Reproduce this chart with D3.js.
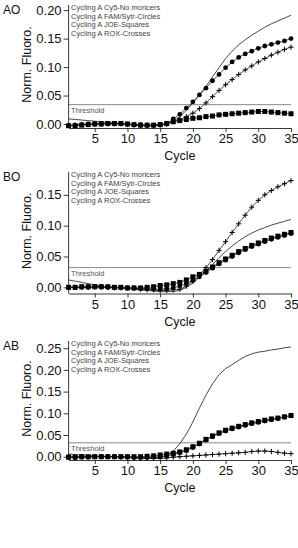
<!DOCTYPE html>
<html><head><meta charset="utf-8">
<script src="https://cdn.jsdelivr.net/npm/d3@7/dist/d3.min.js"></script>
<style>
body{margin:0;background:#fff;}
svg{display:block;font-family:"Liberation Sans",Arial,sans-serif;}
</style></head><body>
<svg id="chart" width="298" height="548"></svg>
<script>
const cycles = [1,2,3,4,5,6,7,8,9,10,11,12,13,14,15,16,17,18,19,20,21,22,23,24,25,26,27,28,29,30,31,32,33,34,35];
const xTicks = [5,10,15,20,25,30,35];
const legendLabels = ["Cycling A Cy5-No moricers","Cycling A FAM/Sytr-Circles","Cycling A JOE-Squares","Cycling A ROX-Crosses"];
const panelNames = ["AO","BO","AB"];
const yTicksAO = [0,0.05,0.10,0.15,0.20];
const yTicksBO = [0,0.05,0.10,0.15];
const yTicksAB = [0,0.05,0.10,0.15,0.20,0.25];
const thresholds = [0.034,0.032,0.032];

const cy5_AO = [0.009,0.008,0.007,0.006,0.005,0.004,0.003,0.002,0.001,0.000,-0.001,-0.002,-0.003,-0.003,-0.002,0.000,0.005,0.013,0.024,0.037,0.051,0.066,0.083,0.099,0.115,0.128,0.139,0.148,0.156,0.163,0.170,0.176,0.181,0.186,0.191];
const fam_AO = [-0.003,-0.002,-0.001,0.000,0.000,0.001,0.001,0.001,0.001,0.000,-0.001,-0.001,-0.002,-0.002,-0.001,0.000,0.009,0.017,0.028,0.039,0.051,0.063,0.076,0.087,0.099,0.109,0.117,0.123,0.128,0.133,0.137,0.140,0.143,0.146,0.150];
const joe_AO = [-0.003,-0.003,-0.002,-0.001,0.000,0.000,0.001,0.001,0.001,0.000,-0.001,-0.002,-0.002,-0.002,-0.001,0.001,0.004,0.006,0.008,0.010,0.011,0.013,0.014,0.016,0.017,0.018,0.019,0.020,0.021,0.022,0.022,0.021,0.020,0.019,0.018];
const rox_AO = [-0.002,-0.002,-0.001,-0.001,0.000,0.000,0.000,0.000,0.000,-0.001,-0.002,-0.003,-0.003,-0.003,-0.002,0.000,0.004,0.008,0.013,0.019,0.027,0.037,0.048,0.059,0.069,0.078,0.087,0.095,0.102,0.109,0.115,0.121,0.126,0.131,0.135];

const cy5_BO = [0.012,0.010,0.008,0.006,0.004,0.002,0.001,0.000,-0.001,-0.002,-0.003,-0.004,-0.005,-0.006,-0.007,-0.007,-0.007,-0.005,0.000,0.007,0.016,0.026,0.037,0.048,0.058,0.067,0.075,0.082,0.088,0.093,0.097,0.101,0.104,0.107,0.110];
const fam_BO = [0.000,0.000,0.000,0.000,0.001,0.001,0.000,0.000,0.000,-0.001,-0.001,-0.002,-0.002,-0.003,-0.003,-0.002,-0.001,0.002,0.006,0.011,0.017,0.024,0.031,0.038,0.044,0.050,0.056,0.061,0.066,0.070,0.074,0.078,0.081,0.084,0.087];
const joe_BO = [0.000,0.000,0.001,0.001,0.001,0.001,0.001,0.000,0.000,-0.001,-0.001,-0.001,0.000,0.001,0.003,0.004,0.006,0.008,0.012,0.017,0.021,0.026,0.033,0.040,0.046,0.052,0.058,0.063,0.068,0.072,0.076,0.080,0.083,0.086,0.089];
const rox_BO = [0.000,0.000,0.000,0.000,0.000,0.000,0.000,-0.001,-0.001,-0.001,-0.002,-0.003,-0.004,-0.004,-0.005,-0.005,-0.004,-0.003,0.002,0.010,0.020,0.032,0.045,0.060,0.074,0.089,0.103,0.117,0.130,0.141,0.150,0.157,0.163,0.168,0.173];

const cy5_AB = [0.006,0.005,0.004,0.003,0.002,0.001,0.001,0.000,0.000,-0.001,-0.002,-0.003,-0.003,-0.003,-0.002,0.003,0.013,0.030,0.052,0.080,0.112,0.142,0.168,0.189,0.203,0.212,0.222,0.231,0.237,0.241,0.243,0.246,0.248,0.251,0.253];
const fam_AB = [-0.002,-0.002,-0.001,-0.001,0.000,0.000,0.000,0.000,0.000,-0.001,-0.002,-0.002,-0.002,-0.001,0.000,0.002,0.005,0.009,0.014,0.021,0.029,0.038,0.046,0.053,0.059,0.064,0.068,0.072,0.076,0.079,0.082,0.085,0.088,0.091,0.094];
const joe_AB = [-0.001,-0.001,0.000,0.000,0.000,0.000,0.000,0.000,0.000,0.000,0.000,0.000,0.001,0.002,0.004,0.006,0.008,0.011,0.016,0.023,0.031,0.040,0.048,0.055,0.061,0.066,0.070,0.074,0.078,0.081,0.084,0.087,0.089,0.092,0.095];
const rox_AB = [0.000,0.000,0.000,0.000,0.000,0.000,0.000,0.000,-0.001,-0.001,-0.003,-0.004,-0.004,-0.004,-0.004,-0.003,-0.001,0.000,0.001,0.002,0.003,0.004,0.005,0.006,0.007,0.008,0.009,0.010,0.012,0.013,0.013,0.012,0.010,0.008,0.007];

const panels = [
  {name:panelNames[0], cy5:cy5_AO, fam:fam_AO, joe:joe_AO, rox:rox_AO, ticks:yTicksAO, thr:thresholds[0], dom:[-0.007,0.209], top:5, bottom:128},
  {name:panelNames[1], cy5:cy5_BO, fam:fam_BO, joe:joe_BO, rox:rox_BO, ticks:yTicksBO, thr:thresholds[1], dom:[-0.010,0.187], top:172, bottom:293.5},
  {name:panelNames[2], cy5:cy5_AB, fam:fam_AB, joe:joe_AB, rox:rox_AB, ticks:yTicksAB, thr:thresholds[2], dom:[-0.0076,0.2666], top:341, bottom:460}
];

const svg = d3.select("#chart");
const x = d3.scaleLinear().domain([1,35]).range([68.6,291]);
const ink = "#222";

panels.forEach(p => {
  const y = d3.scaleLinear().domain(p.dom).range([p.bottom,p.top]);
  const g = svg.append("g");

  g.append("line").attr("x1",x(1)).attr("x2",x(35)).attr("y1",y(p.thr)).attr("y2",y(p.thr))
    .attr("stroke","#8a8a8a").attr("stroke-width",1);
  g.append("text").attr("x",x(1)+2.5).attr("y",y(p.thr)+8.5).text("Threshold")
    .attr("font-size",7.5).attr("fill","#555");

  const ya = g.append("g").attr("transform",`translate(${x(1)},0)`)
    .call(d3.axisLeft(y).tickValues(p.ticks).tickFormat(d3.format(".2f")).tickSize(5).tickSizeOuter(0).tickPadding(2));
  const xa = g.append("g").attr("transform",`translate(0,${p.bottom})`)
    .call(d3.axisBottom(x).tickValues(xTicks).tickSize(4).tickSizeOuter(0).tickPadding(2));
  [ya,xa].forEach(a=>{
    a.selectAll("path,line").attr("stroke",ink).attr("stroke-width",0.9);
    a.selectAll("text").attr("font-size",13).attr("fill","#111").attr("font-family","Liberation Sans, Arial, sans-serif");
  });
  ya.select(".domain").attr("d",`M0,${p.top}V${p.bottom}`);

  g.append("text").attr("x",3).attr("y",p.top+9).text(p.name).attr("font-size",12).attr("fill","#111");
  g.append("text").attr("transform",`translate(26.5,${(p.top+p.bottom)/2-2}) rotate(-90)`)
    .attr("text-anchor","middle").attr("dy","0.35em").text("Norm. Fluoro.").attr("font-size",12.5).attr("fill","#111");
  g.append("text").attr("x",(x(1)+x(35))/2).attr("y",p.bottom+32).attr("text-anchor","middle")
    .text("Cycle").attr("font-size",12.5).attr("fill","#111");

  legendLabels.forEach((t,i)=>{
    g.append("text").attr("x",x(1)+2.5).attr("y",p.top+5+i*8.5).text(t).attr("font-size",7.5).attr("fill","#444");
  });

  const line = d3.line().x((d,i)=>x(cycles[i])).y(d=>y(d));
  g.append("path").datum(p.cy5).attr("d",line).attr("fill","none").attr("stroke","#333").attr("stroke-width",0.9);
  g.append("path").datum(p.joe).attr("d",line).attr("fill","none").attr("stroke",ink).attr("stroke-width",0.8);
  g.selectAll(null).data(p.joe).enter().append("rect")
    .attr("x",(d,i)=>x(cycles[i])-2.5).attr("y",d=>y(d)-2.5).attr("width",5).attr("height",5).attr("fill","#000");
  g.append("path").datum(p.fam).attr("d",line).attr("fill","none").attr("stroke",ink).attr("stroke-width",0.8);
  g.selectAll(null).data(p.fam).enter().append("circle")
    .attr("cx",(d,i)=>x(cycles[i])).attr("cy",d=>y(d)).attr("r",2.4).attr("fill","#000");
  g.append("path").datum(p.rox).attr("d",line).attr("fill","none").attr("stroke",ink).attr("stroke-width",0.8);
  g.selectAll(null).data(p.rox).enter().append("path")
    .attr("d",(d,i)=>{const cx=x(cycles[i]), cy=y(d); return `M${cx-2.6},${cy}H${cx+2.6}M${cx},${cy-2.6}V${cy+2.6}`;})
    .attr("stroke","#000").attr("stroke-width",1);
});
</script>
</body></html>
